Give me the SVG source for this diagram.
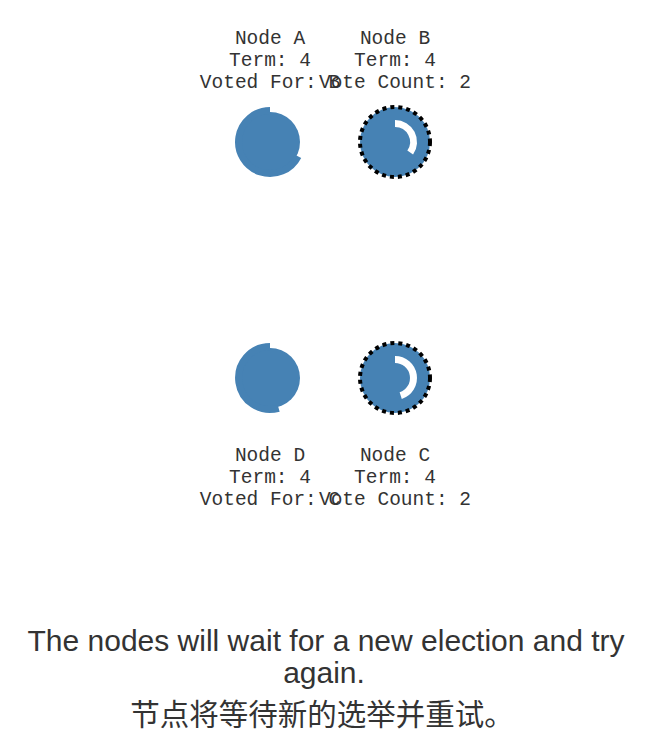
<svg xmlns="http://www.w3.org/2000/svg" width="667" height="748" viewBox="0 0 667 748">
<style>
.lbl{font-family:"Liberation Mono","Courier New",monospace;font-size:19.5px;fill:#333;text-anchor:middle}
.body{fill:#4682b4}
.ring{fill:none;stroke:#4682b4;stroke-width:7}
.cand{fill:#4682b4;stroke:#000;stroke-width:4;stroke-dasharray:4 4}
.timer{fill:none;stroke:#fff;stroke-width:7}
.cap{font-family:"Liberation Sans",Arial,"Noto Sans CJK SC",sans-serif;font-size:30px;fill:#333;text-anchor:middle}
.zh{font-size:29.5px}
</style>
<rect width="667" height="748" fill="#fff"/>
<g id="connectors"></g>
<g id="nodeA">
<circle class="body" cx="270" cy="142" r="30"/>
<path class="ring" d="M298.1,156.3 A31.5,31.5 0 1 1 270,110.5"/>
<text class="lbl" x="270" y="44">Node A</text>
<text class="lbl" x="270" y="66">Term: 4</text>
<text class="lbl" x="270" y="88">Voted For: B</text>
</g>
<g id="nodeB">
<circle class="cand" cx="395" cy="142" r="35"/>
<path class="timer" d="M395,123.5 A18.5,18.5 0 0 1 410.2,152.6"/>
<text class="lbl" x="395" y="44">Node B</text>
<text class="lbl" x="395" y="66">Term: 4</text>
<text class="lbl" x="395" y="88">Vote Count: 2</text>
</g>
<g id="nodeD">
<circle class="body" cx="270" cy="378" r="30"/>
<path class="ring" d="M278.7,408.3 A31.5,31.5 0 1 1 270,346.5"/>
<text class="lbl" x="270" y="461">Node D</text>
<text class="lbl" x="270" y="483">Term: 4</text>
<text class="lbl" x="270" y="505">Voted For: C</text>
</g>
<g id="nodeC">
<circle class="cand" cx="395" cy="378" r="35"/>
<path class="timer" d="M395,359.5 A18.5,18.5 0 0 1 400.7,395.6"/>
<text class="lbl" x="395" y="461">Node C</text>
<text class="lbl" x="395" y="483">Term: 4</text>
<text class="lbl" x="395" y="505">Vote Count: 2</text>
</g>
<g id="caption">
<text class="cap" x="326" y="651">The nodes will wait for a new election and try</text>
<text class="cap" x="324" y="683">again.</text>
<text class="cap zh" x="322" y="725">节点将等待新的选举并重试。</text>
</g>
</svg>
